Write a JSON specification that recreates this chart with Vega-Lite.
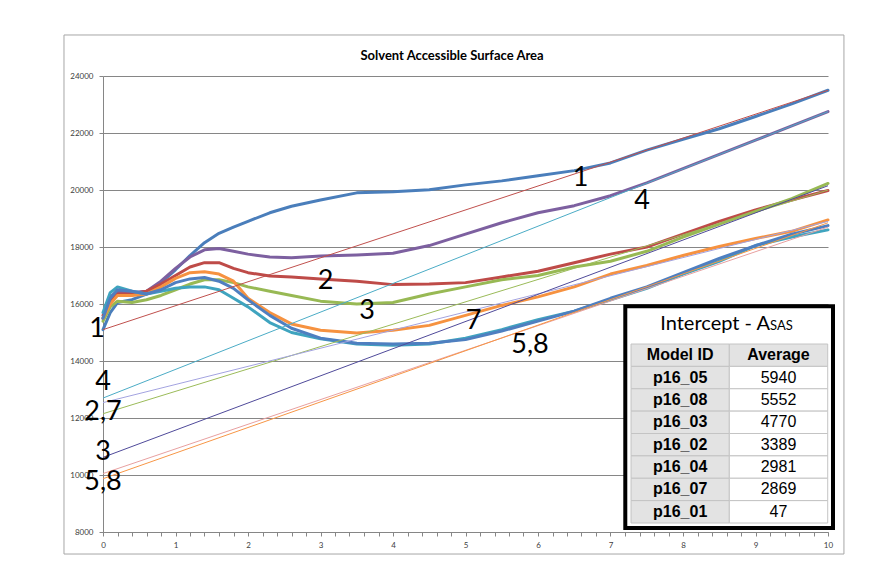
{
  "$schema": "https://vega.github.io/schema/vega-lite/v6.json",
  "width": 725,
  "height": 456,
  "autosize": "none",
  "padding": {"left": 103, "top": 76, "right": 65, "bottom": 38},
  "background": "white",
  "config": {
    "view": {"stroke": null},
    "font": "Lato",
    "axisX": {"grid": false, "domainColor": "#868686", "tickColor": "#868686", "tickSize": 4, "labelFontSize": 8, "labelColor": "#404040", "labelPadding": 5, "labelOverlap": false, "labelFlush": false, "labelFont": "Lato", "title": null},
    "axisY": {"grid": true, "gridColor": "#868686", "gridWidth": 1, "domainColor": "#868686", "tickColor": "#868686", "tickSize": 4, "labelFontSize": 8, "labelColor": "#404040", "labelPadding": 6, "labelFont": "Lato", "title": null, "labelOverlap": false}
  },
  "datasets": {
    "sim": [
      {"x": 0, "c1": 15100, "c4": 15500, "c2": 15600, "c3": 15400, "c7": 15500, "c5": 15700, "c8": 15500},
      {"x": 0.1, "c1": 15700, "c4": 16250, "c2": 16100, "c3": 15900, "c7": 16000, "c5": 16400, "c8": 16200},
      {"x": 0.2, "c1": 16050, "c4": 16450, "c2": 16350, "c3": 16100, "c7": 16300, "c5": 16600, "c8": 16500},
      {"x": 0.4, "c1": 16150, "c4": 16400, "c2": 16350, "c3": 16050, "c7": 16300, "c5": 16450, "c8": 16450},
      {"x": 0.6, "c1": 16350, "c4": 16450, "c2": 16450, "c3": 16150, "c7": 16350, "c5": 16350, "c8": 16350},
      {"x": 0.8, "c1": 16750, "c4": 16800, "c2": 16700, "c3": 16300, "c7": 16600, "c5": 16450, "c8": 16500},
      {"x": 1.0, "c1": 17200, "c4": 17250, "c2": 17000, "c3": 16500, "c7": 16900, "c5": 16550, "c8": 16750},
      {"x": 1.2, "c1": 17700, "c4": 17650, "c2": 17300, "c3": 16700, "c7": 17100, "c5": 16600, "c8": 16880},
      {"x": 1.4, "c1": 18150, "c4": 17900, "c2": 17450, "c3": 16850, "c7": 17130, "c5": 16600, "c8": 16930},
      {"x": 1.6, "c1": 18480, "c4": 17950, "c2": 17450, "c3": 16850, "c7": 17050, "c5": 16500, "c8": 16800},
      {"x": 1.8, "c1": 18700, "c4": 17850, "c2": 17250, "c3": 16750, "c7": 16800, "c5": 16200, "c8": 16550},
      {"x": 2.0, "c1": 18900, "c4": 17750, "c2": 17100, "c3": 16600, "c7": 16200, "c5": 15900, "c8": 16150},
      {"x": 2.3, "c1": 19200, "c4": 17650, "c2": 16980, "c3": 16450, "c7": 15700, "c5": 15350, "c8": 15600},
      {"x": 2.6, "c1": 19430, "c4": 17620, "c2": 16950, "c3": 16300, "c7": 15300, "c5": 15000, "c8": 15150},
      {"x": 3.0, "c1": 19650, "c4": 17680, "c2": 16880, "c3": 16100, "c7": 15080, "c5": 14780, "c8": 14800},
      {"x": 3.5, "c1": 19900, "c4": 17720, "c2": 16800, "c3": 16000, "c7": 14980, "c5": 14600, "c8": 14620},
      {"x": 4.0, "c1": 19940, "c4": 17780, "c2": 16680, "c3": 16050, "c7": 15080, "c5": 14550, "c8": 14600},
      {"x": 4.5, "c1": 20010, "c4": 18050, "c2": 16700, "c3": 16350, "c7": 15250, "c5": 14600, "c8": 14620},
      {"x": 5.0, "c1": 20180, "c4": 18450, "c2": 16750, "c3": 16600, "c7": 15600, "c5": 14800, "c8": 14750},
      {"x": 5.5, "c1": 20320, "c4": 18850, "c2": 16950, "c3": 16850, "c7": 15950, "c5": 15100, "c8": 15050},
      {"x": 6.0, "c1": 20500, "c4": 19200, "c2": 17150, "c3": 17000, "c7": 16250, "c5": 15450, "c8": 15400},
      {"x": 6.5, "c1": 20680, "c4": 19450, "c2": 17450, "c3": 17300, "c7": 16600, "c5": 15750, "c8": 15750},
      {"x": 7.0, "c1": 20950, "c4": 19800, "c2": 17750, "c3": 17500, "c7": 17050, "c5": 16150, "c8": 16200},
      {"x": 7.5, "c1": 21400, "c4": 20250, "c2": 18000, "c3": 17850, "c7": 17350, "c5": 16550, "c8": 16600},
      {"x": 8.0, "c1": 21780, "c4": 20750, "c2": 18450, "c3": 18350, "c7": 17700, "c5": 17050, "c8": 17100},
      {"x": 8.5, "c1": 22150, "c4": 21250, "c2": 18900, "c3": 18800, "c7": 18020, "c5": 17500, "c8": 17600},
      {"x": 9.0, "c1": 22580, "c4": 21750, "c2": 19300, "c3": 19250, "c7": 18300, "c5": 18050, "c8": 18050},
      {"x": 9.5, "c1": 23020, "c4": 22250, "c2": 19650, "c3": 19700, "c7": 18550, "c5": 18350, "c8": 18450},
      {"x": 10, "c1": 23500, "c4": 22750, "c2": 19980, "c3": 20230, "c7": 18950, "c5": 18600, "c8": 18750}
    ],
    "fit": [
      {"x": 0, "f1": 15100, "f4": 12700, "f2": 12150, "f7": 12540, "f3": 10620, "f5": 10050, "f8": 9870},
      {"x": 10, "f1": 23500, "f4": 22750, "f2": 20000, "f7": 18900, "f3": 20150, "f5": 18700, "f8": 18850}
    ],
    "labels": [
      {"label": "1", "x": -0.08, "y": 14852, "side": "left"},
      {"label": "4", "x": 0, "y": 12982, "side": "left"},
      {"label": "2,7", "x": 0, "y": 11929, "side": "left"},
      {"label": "3", "x": 0, "y": 10525, "side": "left"},
      {"label": "5,8", "x": 0, "y": 9473, "side": "left"},
      {"label": "1", "x": 6.586, "y": 20151, "side": "in"},
      {"label": "4", "x": 7.434, "y": 19333, "side": "in"},
      {"label": "2", "x": 3.069, "y": 16526, "side": "in"},
      {"label": "3", "x": 3.641, "y": 15473, "side": "in"},
      {"label": "7", "x": 5.11, "y": 15122, "side": "in"},
      {"label": "5,8", "x": 5.89, "y": 14280, "side": "in"}
    ],
    "chartTitle": [
      {"text": "Solvent Accessible Surface Area"}
    ],
    "table": [
      {"id": "p16_05", "average": 5940},
      {"id": "p16_08", "average": 5552},
      {"id": "p16_03", "average": 4770},
      {"id": "p16_02", "average": 3389},
      {"id": "p16_04", "average": 2981},
      {"id": "p16_07", "average": 2869},
      {"id": "p16_01", "average": 47}
    ],
    "header": [
      {"id": "Model ID", "avgLabel": "Average"}
    ],
    "tableTitle": [
      {"main": "Intercept - A", "sub": "SAS"}
    ]
  },
  "layer": [
    {
      "layer": [
        {
          "data": {"name": "sim"},
          "transform": [{"fold": ["c1", "c4", "c2", "c3", "c7", "c5", "c8"], "as": ["series", "value"]}],
          "mark": {"type": "line", "strokeWidth": 3, "strokeJoin": "round", "strokeCap": "round"},
          "encoding": {
            "x": {"field": "x", "type": "quantitative", "scale": {"domain": [0, 10], "nice": false},
              "axis": {"values": [0,0.2,0.4,0.6,0.8,1,1.2,1.4,1.6,1.8,2,2.2,2.4,2.6,2.8,3,3.2,3.4,3.6,3.8,4,4.2,4.4,4.6,4.8,5,5.2,5.4,5.6,5.8,6,6.2,6.4,6.6,6.8,7,7.2,7.4,7.6,7.8,8,8.2,8.4,8.6,8.8,9,9.2,9.4,9.6,9.8,10],
                "labelExpr": "datum.value % 1 == 0 ? format(datum.value, 'd') : ''"}},
            "y": {"field": "value", "type": "quantitative", "scale": {"domain": [8000, 24000], "nice": false, "zero": false},
              "axis": {"values": [8000,10000,12000,14000,16000,18000,20000,22000,24000], "format": "d"}},
            "color": {"field": "series", "type": "nominal", "legend": null,
              "scale": {"domain": ["c1","c2","c3","c4","c5","c7","c8","f1","f2","f3","f4","f5","f7","f8"],
                "range": ["#4a7ebb","#be4b48","#98b954","#7d60a0","#3fa4bf","#f69240","#4f7fc0","#c0504d","#9bbb59","#4f4a9a","#4bacc6","#e8a0a0","#a3a3e0","#f79646"]}},
            "detail": {"field": "series"}
          }
        },
        {
          "data": {"name": "fit"},
          "transform": [{"fold": ["f1", "f4", "f2", "f7", "f3", "f5", "f8"], "as": ["series", "value"]}],
          "mark": {"type": "line", "strokeWidth": 1},
          "encoding": {
            "x": {"field": "x", "type": "quantitative", "scale": {"domain": [0, 10], "nice": false},
              "axis": {"values": [0,0.2,0.4,0.6,0.8,1,1.2,1.4,1.6,1.8,2,2.2,2.4,2.6,2.8,3,3.2,3.4,3.6,3.8,4,4.2,4.4,4.6,4.8,5,5.2,5.4,5.6,5.8,6,6.2,6.4,6.6,6.8,7,7.2,7.4,7.6,7.8,8,8.2,8.4,8.6,8.8,9,9.2,9.4,9.6,9.8,10],
                "labelExpr": "datum.value % 1 == 0 ? format(datum.value, 'd') : ''"}},
            "y": {"field": "value", "type": "quantitative", "scale": {"domain": [8000, 24000], "nice": false, "zero": false},
              "axis": {"values": [8000,10000,12000,14000,16000,18000,20000,22000,24000], "format": "d"}},
            "color": {"field": "series", "type": "nominal", "legend": null}
          }
        },
        {
          "data": {"values": [{}]},
          "mark": {"type": "rect", "fillOpacity": 0, "stroke": "#a6a6a6", "strokeWidth": 1},
          "encoding": {
            "x": {"datum": -0.538, "type": "quantitative", "scale": {"domain": [0, 10], "nice": false},
              "axis": {"values": [0,0.2,0.4,0.6,0.8,1,1.2,1.4,1.6,1.8,2,2.2,2.4,2.6,2.8,3,3.2,3.4,3.6,3.8,4,4.2,4.4,4.6,4.8,5,5.2,5.4,5.6,5.8,6,6.2,6.4,6.6,6.8,7,7.2,7.4,7.6,7.8,8,8.2,8.4,8.6,8.8,9,9.2,9.4,9.6,9.8,10],
                "labelExpr": "datum.value % 1 == 0 ? format(datum.value, 'd') : ''"}},
            "x2": {"datum": 10.22},
            "y": {"datum": 25439, "type": "quantitative", "scale": {"domain": [8000, 24000], "nice": false, "zero": false},
              "axis": {"values": [8000,10000,12000,14000,16000,18000,20000,22000,24000], "format": "d"}},
            "y2": {"datum": 7227}
          }
        },
        {
          "data": {"name": "chartTitle"},
          "mark": {"type": "text", "font": "Lato", "fontSize": 13, "fontWeight": "bold", "align": "center", "baseline": "alphabetic", "color": "#000000"},
          "encoding": {
            "x": {"datum": 4.814, "type": "quantitative", "scale": {"domain": [0, 10], "nice": false},
              "axis": {"values": [0,0.2,0.4,0.6,0.8,1,1.2,1.4,1.6,1.8,2,2.2,2.4,2.6,2.8,3,3.2,3.4,3.6,3.8,4,4.2,4.4,4.6,4.8,5,5.2,5.4,5.6,5.8,6,6.2,6.4,6.6,6.8,7,7.2,7.4,7.6,7.8,8,8.2,8.4,8.6,8.8,9,9.2,9.4,9.6,9.8,10],
                "labelExpr": "datum.value % 1 == 0 ? format(datum.value, 'd') : ''"}},
            "y": {"datum": 24561, "type": "quantitative", "scale": {"domain": [8000, 24000], "nice": false, "zero": false},
              "axis": {"values": [8000,10000,12000,14000,16000,18000,20000,22000,24000], "format": "d"}},
            "text": {"field": "text"}
          }
        },
        {
          "data": {"name": "labels"},
          "mark": {"type": "text", "fontSize": 27, "font": "Lato", "baseline": "alphabetic", "color": "#000000"},
          "encoding": {
            "x": {"field": "x", "type": "quantitative", "scale": {"domain": [0, 10], "nice": false},
              "axis": {"values": [0,0.2,0.4,0.6,0.8,1,1.2,1.4,1.6,1.8,2,2.2,2.4,2.6,2.8,3,3.2,3.4,3.6,3.8,4,4.2,4.4,4.6,4.8,5,5.2,5.4,5.6,5.8,6,6.2,6.4,6.6,6.8,7,7.2,7.4,7.6,7.8,8,8.2,8.4,8.6,8.8,9,9.2,9.4,9.6,9.8,10],
                "labelExpr": "datum.value % 1 == 0 ? format(datum.value, 'd') : ''"}},
            "y": {"field": "y", "type": "quantitative", "scale": {"domain": [8000, 24000], "nice": false, "zero": false},
              "axis": {"values": [8000,10000,12000,14000,16000,18000,20000,22000,24000], "format": "d"}},
            "text": {"field": "label"},
            "align": {"condition": {"test": "datum.side == 'left'", "value": "right"}, "value": "center"}
          }
        },
        {
          "data": {"values": [{}]},
          "mark": {"type": "rect", "fill": "#ffffff", "stroke": "#000000", "strokeWidth": 4},
          "encoding": {
            "x": {"datum": 7.204, "type": "quantitative", "scale": {"domain": [0, 10], "nice": false},
              "axis": {"values": [0,0.2,0.4,0.6,0.8,1,1.2,1.4,1.6,1.8,2,2.2,2.4,2.6,2.8,3,3.2,3.4,3.6,3.8,4,4.2,4.4,4.6,4.8,5,5.2,5.4,5.6,5.8,6,6.2,6.4,6.6,6.8,7,7.2,7.4,7.6,7.8,8,8.2,8.4,8.6,8.8,9,9.2,9.4,9.6,9.8,10],
                "labelExpr": "datum.value % 1 == 0 ? format(datum.value, 'd') : ''"}},
            "x2": {"datum": 10.069},
            "y": {"datum": 15919, "type": "quantitative", "scale": {"domain": [8000, 24000], "nice": false, "zero": false},
              "axis": {"values": [8000,10000,12000,14000,16000,18000,20000,22000,24000], "format": "d"}},
            "y2": {"datum": 8139}
          }
        },
        {
          "data": {"name": "tableTitle"},
          "mark": {"type": "text", "font": "Lato", "fontSize": 20, "align": "right", "baseline": "alphabetic", "color": "#000000"},
          "encoding": {
            "x": {"datum": 9.2, "type": "quantitative", "scale": {"domain": [0, 10], "nice": false},
              "axis": {"values": [0,0.2,0.4,0.6,0.8,1,1.2,1.4,1.6,1.8,2,2.2,2.4,2.6,2.8,3,3.2,3.4,3.6,3.8,4,4.2,4.4,4.6,4.8,5,5.2,5.4,5.6,5.8,6,6.2,6.4,6.6,6.8,7,7.2,7.4,7.6,7.8,8,8.2,8.4,8.6,8.8,9,9.2,9.4,9.6,9.8,10],
                "labelExpr": "datum.value % 1 == 0 ? format(datum.value, 'd') : ''"}},
            "y": {"datum": 15087, "type": "quantitative", "scale": {"domain": [8000, 24000], "nice": false, "zero": false},
              "axis": {"values": [8000,10000,12000,14000,16000,18000,20000,22000,24000], "format": "d"}},
            "text": {"field": "main"}
          }
        },
        {
          "data": {"name": "tableTitle"},
          "mark": {"type": "text", "font": "Lato", "fontSize": 13, "align": "left", "baseline": "alphabetic", "color": "#000000"},
          "encoding": {
            "x": {"datum": 9.2, "type": "quantitative", "scale": {"domain": [0, 10], "nice": false},
              "axis": {"values": [0,0.2,0.4,0.6,0.8,1,1.2,1.4,1.6,1.8,2,2.2,2.4,2.6,2.8,3,3.2,3.4,3.6,3.8,4,4.2,4.4,4.6,4.8,5,5.2,5.4,5.6,5.8,6,6.2,6.4,6.6,6.8,7,7.2,7.4,7.6,7.8,8,8.2,8.4,8.6,8.8,9,9.2,9.4,9.6,9.8,10],
                "labelExpr": "datum.value % 1 == 0 ? format(datum.value, 'd') : ''"}},
            "y": {"datum": 15087, "type": "quantitative", "scale": {"domain": [8000, 24000], "nice": false, "zero": false},
              "axis": {"values": [8000,10000,12000,14000,16000,18000,20000,22000,24000], "format": "d"}},
            "text": {"field": "sub"}
          }
        }
      ]
    },
    {
      "encoding": {
        "y": {"field": "id", "type": "nominal",
          "scale": {"domain": ["Model ID","p16_05","p16_08","p16_03","p16_02","p16_04","p16_07","p16_01"], "range": [268, 447], "paddingInner": 0, "paddingOuter": 0},
          "axis": null}
      },
      "layer": [
        {
          "data": {"name": "header"},
          "mark": {"type": "rect", "fill": "#e3e3e3", "stroke": "#c4c4c4", "strokeWidth": 1},
          "encoding": {
            "x": {"datum": 7.283, "type": "quantitative", "scale": {"domain": [0, 10], "nice": false},
              "axis": {"values": [0,0.2,0.4,0.6,0.8,1,1.2,1.4,1.6,1.8,2,2.2,2.4,2.6,2.8,3,3.2,3.4,3.6,3.8,4,4.2,4.4,4.6,4.8,5,5.2,5.4,5.6,5.8,6,6.2,6.4,6.6,6.8,7,7.2,7.4,7.6,7.8,8,8.2,8.4,8.6,8.8,9,9.2,9.4,9.6,9.8,10],
                "labelExpr": "datum.value % 1 == 0 ? format(datum.value, 'd') : ''"}},
            "x2": {"datum": 8.639}
          }
        },
        {
          "data": {"name": "header"},
          "mark": {"type": "rect", "fill": "#e3e3e3", "stroke": "#c4c4c4", "strokeWidth": 1},
          "encoding": {
            "x": {"datum": 8.639, "type": "quantitative", "scale": {"domain": [0, 10], "nice": false},
              "axis": {"values": [0,0.2,0.4,0.6,0.8,1,1.2,1.4,1.6,1.8,2,2.2,2.4,2.6,2.8,3,3.2,3.4,3.6,3.8,4,4.2,4.4,4.6,4.8,5,5.2,5.4,5.6,5.8,6,6.2,6.4,6.6,6.8,7,7.2,7.4,7.6,7.8,8,8.2,8.4,8.6,8.8,9,9.2,9.4,9.6,9.8,10],
                "labelExpr": "datum.value % 1 == 0 ? format(datum.value, 'd') : ''"}},
            "x2": {"datum": 9.996}
          }
        },
        {
          "data": {"name": "table"},
          "mark": {"type": "rect", "fill": "#e3e3e3", "stroke": "#c4c4c4", "strokeWidth": 1},
          "encoding": {
            "x": {"datum": 7.283, "type": "quantitative", "scale": {"domain": [0, 10], "nice": false},
              "axis": {"values": [0,0.2,0.4,0.6,0.8,1,1.2,1.4,1.6,1.8,2,2.2,2.4,2.6,2.8,3,3.2,3.4,3.6,3.8,4,4.2,4.4,4.6,4.8,5,5.2,5.4,5.6,5.8,6,6.2,6.4,6.6,6.8,7,7.2,7.4,7.6,7.8,8,8.2,8.4,8.6,8.8,9,9.2,9.4,9.6,9.8,10],
                "labelExpr": "datum.value % 1 == 0 ? format(datum.value, 'd') : ''"}},
            "x2": {"datum": 8.639}
          }
        },
        {
          "data": {"name": "table"},
          "mark": {"type": "rect", "fill": "#ffffff", "stroke": "#c4c4c4", "strokeWidth": 1},
          "encoding": {
            "x": {"datum": 8.639, "type": "quantitative", "scale": {"domain": [0, 10], "nice": false},
              "axis": {"values": [0,0.2,0.4,0.6,0.8,1,1.2,1.4,1.6,1.8,2,2.2,2.4,2.6,2.8,3,3.2,3.4,3.6,3.8,4,4.2,4.4,4.6,4.8,5,5.2,5.4,5.6,5.8,6,6.2,6.4,6.6,6.8,7,7.2,7.4,7.6,7.8,8,8.2,8.4,8.6,8.8,9,9.2,9.4,9.6,9.8,10],
                "labelExpr": "datum.value % 1 == 0 ? format(datum.value, 'd') : ''"}},
            "x2": {"datum": 9.996}
          }
        },
        {
          "data": {"name": "header"},
          "mark": {"type": "text", "font": "Liberation Sans", "fontSize": 16, "fontWeight": "bold", "baseline": "middle", "align": "center", "color": "#000000"},
          "encoding": {
            "x": {"datum": 7.961, "type": "quantitative", "scale": {"domain": [0, 10], "nice": false},
              "axis": {"values": [0,0.2,0.4,0.6,0.8,1,1.2,1.4,1.6,1.8,2,2.2,2.4,2.6,2.8,3,3.2,3.4,3.6,3.8,4,4.2,4.4,4.6,4.8,5,5.2,5.4,5.6,5.8,6,6.2,6.4,6.6,6.8,7,7.2,7.4,7.6,7.8,8,8.2,8.4,8.6,8.8,9,9.2,9.4,9.6,9.8,10],
                "labelExpr": "datum.value % 1 == 0 ? format(datum.value, 'd') : ''"}},
            "text": {"field": "id"}
          }
        },
        {
          "data": {"name": "header"},
          "mark": {"type": "text", "font": "Liberation Sans", "fontSize": 16, "fontWeight": "bold", "baseline": "middle", "align": "center", "color": "#000000"},
          "encoding": {
            "x": {"datum": 9.317, "type": "quantitative", "scale": {"domain": [0, 10], "nice": false},
              "axis": {"values": [0,0.2,0.4,0.6,0.8,1,1.2,1.4,1.6,1.8,2,2.2,2.4,2.6,2.8,3,3.2,3.4,3.6,3.8,4,4.2,4.4,4.6,4.8,5,5.2,5.4,5.6,5.8,6,6.2,6.4,6.6,6.8,7,7.2,7.4,7.6,7.8,8,8.2,8.4,8.6,8.8,9,9.2,9.4,9.6,9.8,10],
                "labelExpr": "datum.value % 1 == 0 ? format(datum.value, 'd') : ''"}},
            "text": {"field": "avgLabel"}
          }
        },
        {
          "data": {"name": "table"},
          "mark": {"type": "text", "font": "Liberation Sans", "fontSize": 16, "fontWeight": "bold", "baseline": "middle", "align": "center", "color": "#000000"},
          "encoding": {
            "x": {"datum": 7.961, "type": "quantitative", "scale": {"domain": [0, 10], "nice": false},
              "axis": {"values": [0,0.2,0.4,0.6,0.8,1,1.2,1.4,1.6,1.8,2,2.2,2.4,2.6,2.8,3,3.2,3.4,3.6,3.8,4,4.2,4.4,4.6,4.8,5,5.2,5.4,5.6,5.8,6,6.2,6.4,6.6,6.8,7,7.2,7.4,7.6,7.8,8,8.2,8.4,8.6,8.8,9,9.2,9.4,9.6,9.8,10],
                "labelExpr": "datum.value % 1 == 0 ? format(datum.value, 'd') : ''"}},
            "text": {"field": "id"}
          }
        },
        {
          "data": {"name": "table"},
          "mark": {"type": "text", "font": "Liberation Sans", "fontSize": 16, "baseline": "middle", "align": "center", "color": "#000000"},
          "encoding": {
            "x": {"datum": 9.317, "type": "quantitative", "scale": {"domain": [0, 10], "nice": false},
              "axis": {"values": [0,0.2,0.4,0.6,0.8,1,1.2,1.4,1.6,1.8,2,2.2,2.4,2.6,2.8,3,3.2,3.4,3.6,3.8,4,4.2,4.4,4.6,4.8,5,5.2,5.4,5.6,5.8,6,6.2,6.4,6.6,6.8,7,7.2,7.4,7.6,7.8,8,8.2,8.4,8.6,8.8,9,9.2,9.4,9.6,9.8,10],
                "labelExpr": "datum.value % 1 == 0 ? format(datum.value, 'd') : ''"}},
            "text": {"field": "average", "type": "quantitative", "format": "d"}
          }
        }
      ]
    }
  ],
  "resolve": {"scale": {"y": "independent"}}
}
